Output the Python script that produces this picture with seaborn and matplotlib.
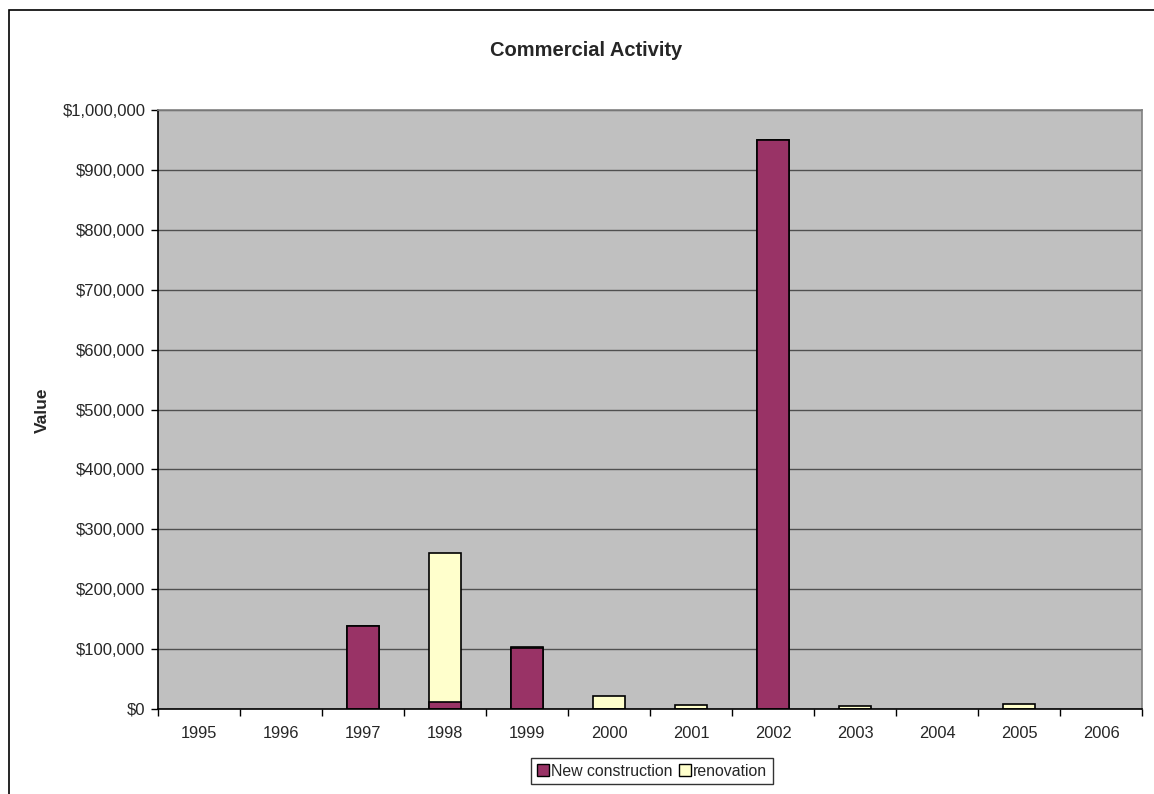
import matplotlib
matplotlib.use("Agg")
import matplotlib.pyplot as plt
import seaborn as sns
import pandas as pd
from matplotlib.patches import Rectangle, Patch
from matplotlib.ticker import FuncFormatter, MultipleLocator, FixedLocator

years = ['1995', '1996', '1997', '1998', '1999', '2000',
         '2001', '2002', '2003', '2004', '2005', '2006']
new_construction = [0, 0, 138000, 12000, 102000, 0, 0, 950000, 0, 0, 0, 0]
renovation = [0, 0, 0, 249000, 1500, 21000, 7000, 0, 5000, 0, 8500, 0]

df = pd.DataFrame({'year': years, 'new': new_construction, 'renovation': renovation})
df['total'] = df['new'] + df['renovation']

sns.set_style("white")
plt.rcParams['font.family'] = ['Liberation Sans', 'DejaVu Sans']

W, H = 1154, 794
fig = plt.figure(figsize=(W / 100, H / 100), dpi=100)
ax = fig.add_axes([158 / W, 1 - 709 / H, (1142 - 158) / W, (709 - 110) / H])
ax.set_facecolor('#C0C0C0')

# stacked bars: total (renovation colour) first, new construction drawn over it
sns.barplot(data=df, x='year', y='total', color='#FFFFCC', saturation=1,
            edgecolor='black', linewidth=1.2, width=0.4, ax=ax)
sns.barplot(data=df, x='year', y='new', color='#993366', saturation=1,
            edgecolor='black', linewidth=1.2, width=0.4, ax=ax)
for p in ax.patches:
    if p.get_height() == 0:
        p.set_visible(False)

ax.set_ylim(0, 1000000)
ax.set_xlim(-0.5, len(years) - 0.5)
ax.yaxis.set_major_locator(MultipleLocator(100000))
ax.yaxis.set_major_formatter(FuncFormatter(lambda v, _: f"${v:,.0f}"))
ax.yaxis.grid(True, color='#505050', linewidth=1)
ax.set_axisbelow(True)

ax.xaxis.set_minor_locator(FixedLocator([i - 0.5 for i in range(len(years) + 1)]))
ax.tick_params(axis='x', which='major', length=0, pad=12, labelsize=11.8)
ax.tick_params(axis='x', which='minor', length=5, width=1, direction='out',
               color='black', bottom=True)
ax.tick_params(axis='y', length=5, width=1, direction='out', pad=4,
               labelsize=12, left=True, color='black')
ax.set_xlabel('')
ax.set_ylabel('')

for side in ['top', 'right']:
    ax.spines[side].set_color('#808080')
    ax.spines[side].set_linewidth(1.2)
for side in ['left', 'bottom']:
    ax.spines[side].set_color('black')
    ax.spines[side].set_linewidth(1.2)

fig.text(586 / W, 1 - 51 / H, 'Commercial Activity', ha='center', va='center',
         fontsize=14.5, fontweight='bold')
fig.text(42 / W, 1 - 410 / H, 'Value', ha='center', va='center', rotation=90,
         fontsize=12.5, fontweight='bold')

handles = [Patch(facecolor='#993366', edgecolor='black', label='New construction'),
           Patch(facecolor='#FFFFCC', edgecolor='black', label='renovation')]
leg = fig.legend(handles=handles, loc='center', bbox_to_anchor=(652 / W, 1 - 771 / H),
                 ncol=2, frameon=True, fancybox=False, fontsize=11.4,
                 handlelength=0.75, handleheight=0.75, handletextpad=0.15,
                 columnspacing=0.4, borderpad=0.35, borderaxespad=0)
leg.get_frame().set_edgecolor('black')
leg.get_frame().set_linewidth(1)

fig.patches.append(Rectangle((9 / W, -0.1), 1.2, 1 - 10 / H + 0.1,
                             transform=fig.transFigure, fill=False,
                             edgecolor='black', linewidth=1.2))

fig.savefig('out.png', dpi=100)
